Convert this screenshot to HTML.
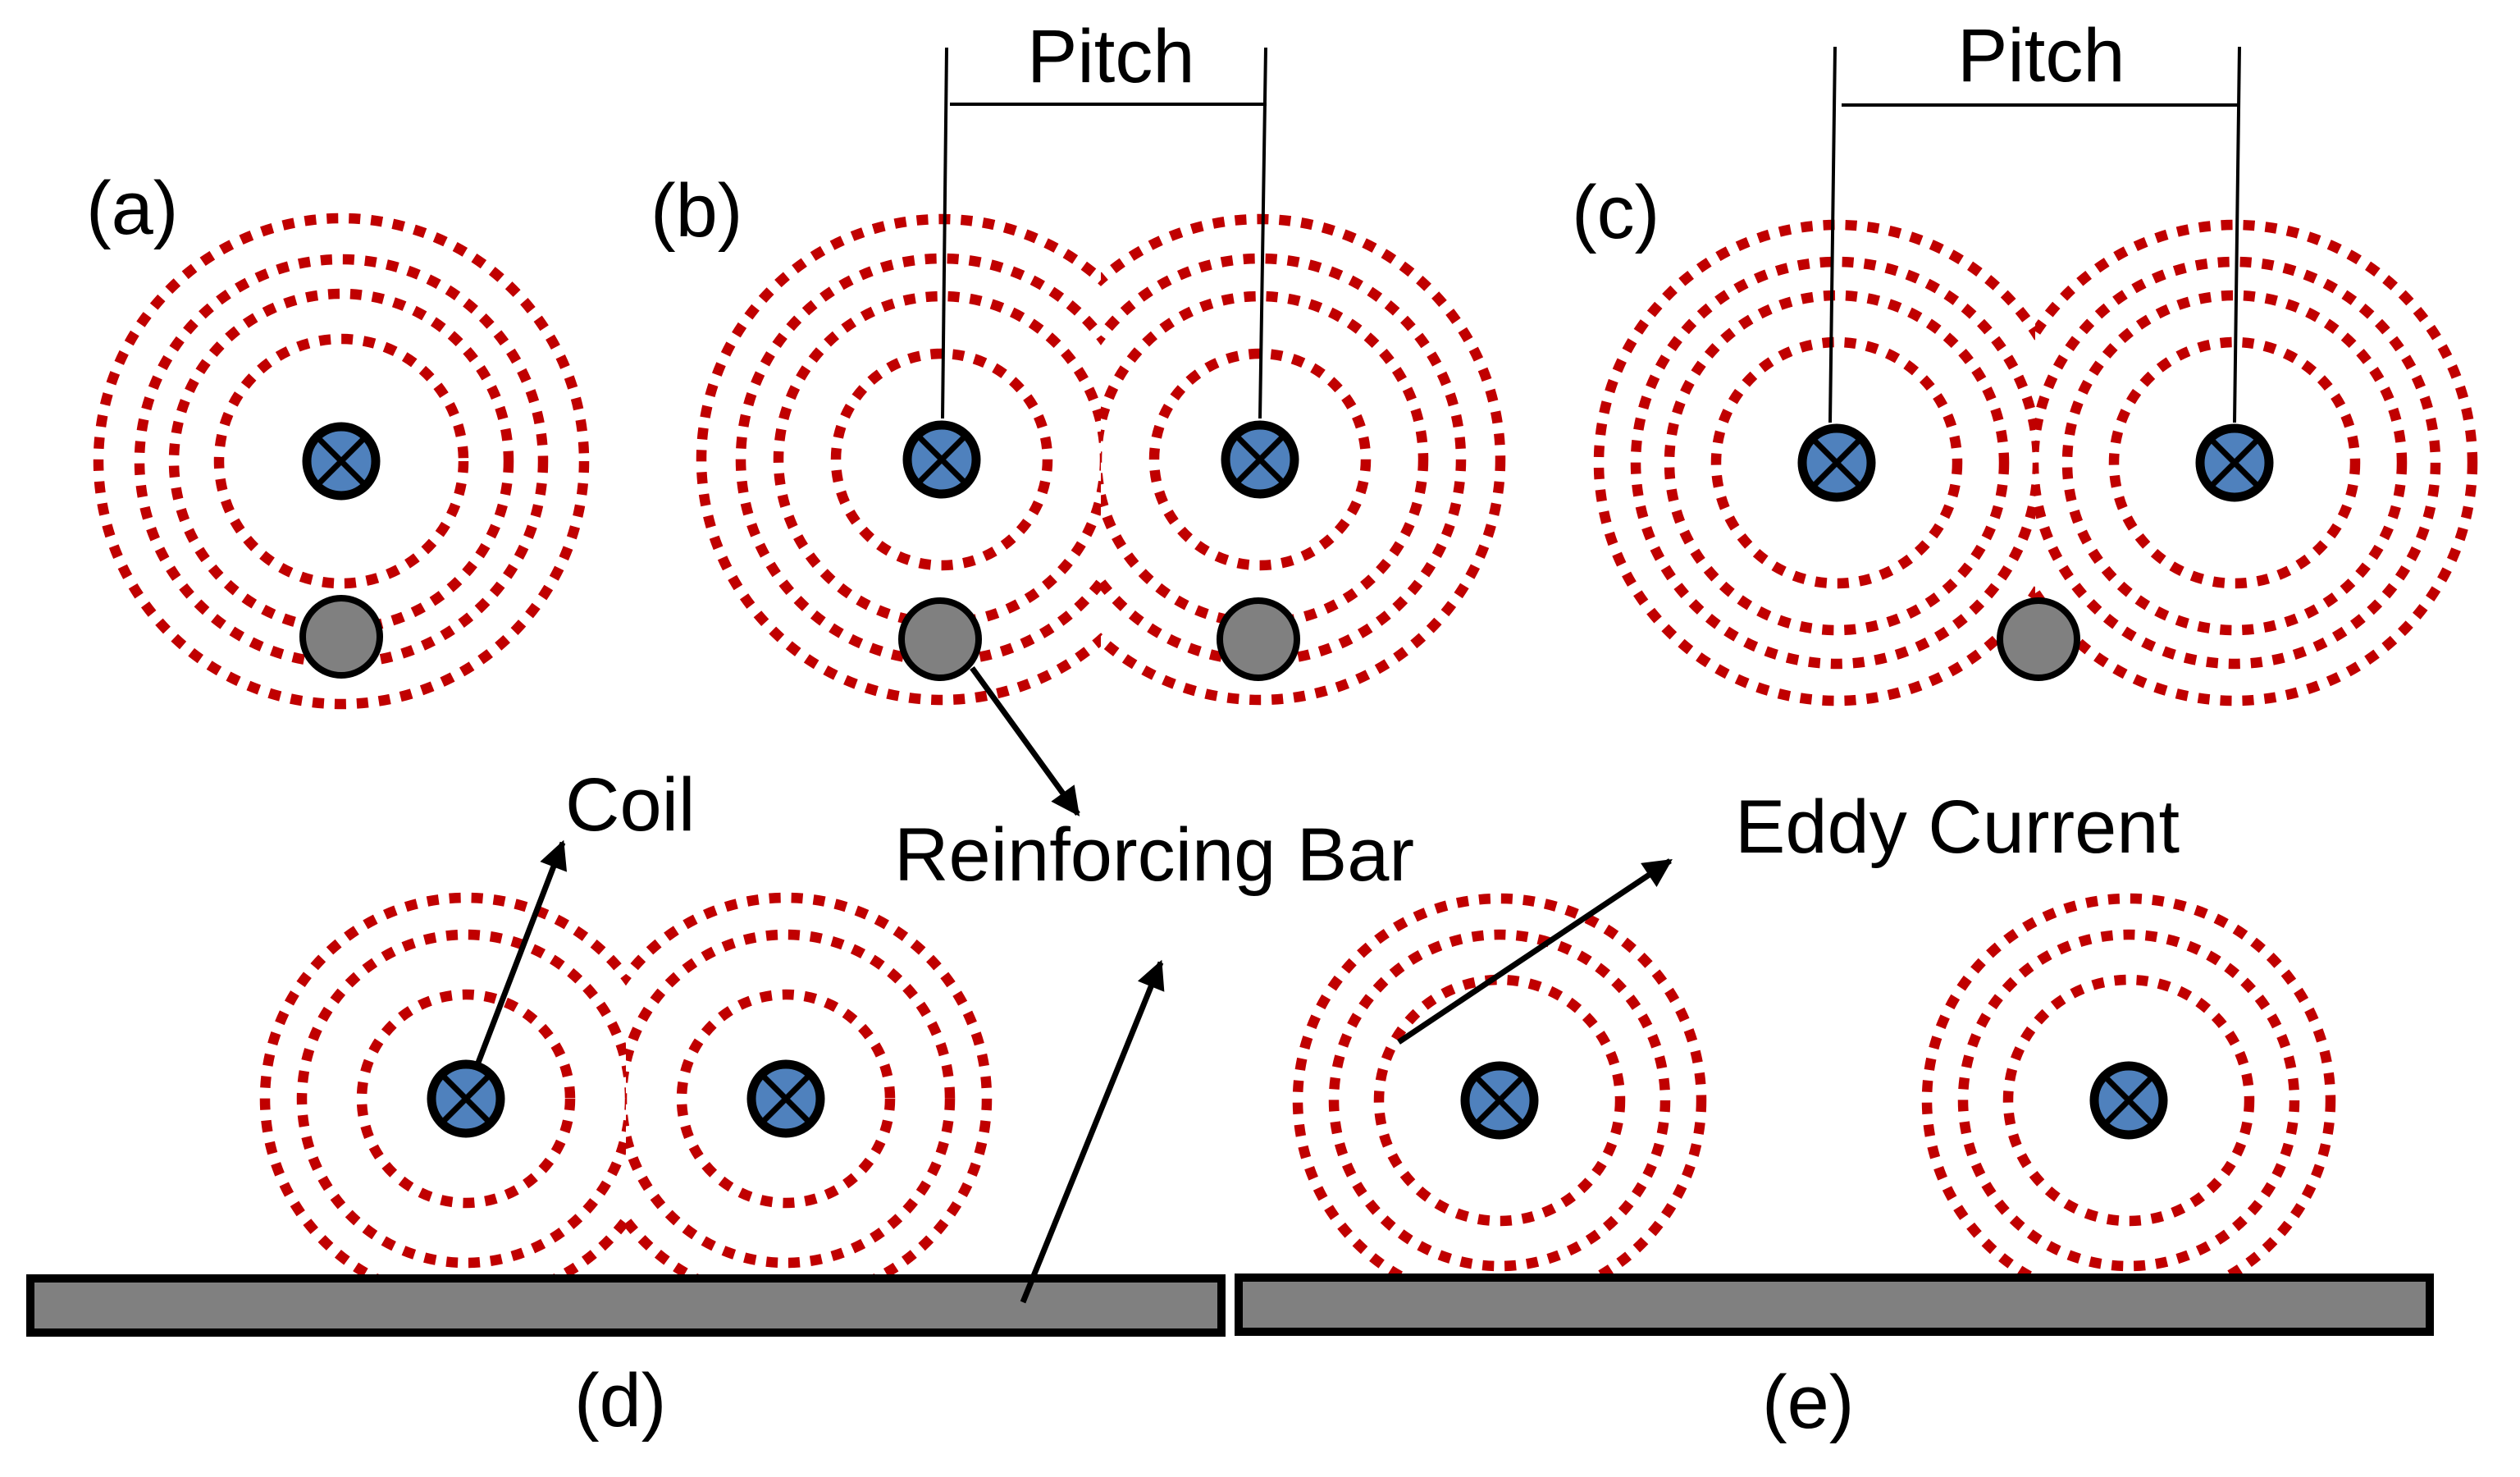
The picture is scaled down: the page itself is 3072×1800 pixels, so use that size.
<!DOCTYPE html>
<html><head><meta charset="utf-8"><style>
html,body{margin:0;padding:0;background:#fff;}
svg{display:block;}
text{font-family:"Liberation Sans",Arial,sans-serif;fill:#000;}
</style></head><body>
<svg width="3072" height="1800" viewBox="0 0 3072 1800" xmlns="http://www.w3.org/2000/svg">
<defs>
<clipPath id="bL"><rect x="0" y="0" width="1342" height="1800"/></clipPath>
<clipPath id="bR"><rect x="1342" y="0" width="1730" height="1800"/></clipPath>
<clipPath id="cL"><rect x="0" y="0" width="2481" height="1800"/></clipPath>
<clipPath id="cR"><rect x="2481" y="0" width="591" height="1800"/></clipPath>
<clipPath id="dL"><rect x="0" y="0" width="763" height="1553"/></clipPath>
<clipPath id="dR"><rect x="763" y="0" width="800" height="1553"/></clipPath>
<clipPath id="eB"><rect x="1400" y="0" width="1672" height="1553"/></clipPath>
<marker id="ah" viewBox="0 0 10 10" refX="9" refY="5" markerWidth="6" markerHeight="5" orient="auto" markerUnits="strokeWidth">
<path d="M0,0 L10,5 L0,10 z" fill="#000"/></marker>
</defs>

<g fill="none" stroke="#c00000" stroke-width="12.5" stroke-dasharray="14 13">
<circle cx="416" cy="562" r="296"/><circle cx="416" cy="562" r="246"/><circle cx="416" cy="562" r="204"/><circle cx="416" cy="562" r="149"/>
<g clip-path="url(#bL)"><circle cx="1148" cy="560" r="293"/><circle cx="1148" cy="560" r="245"/><circle cx="1148" cy="560" r="199"/><circle cx="1148" cy="560" r="129"/></g>
<g clip-path="url(#bR)"><circle cx="1536" cy="560" r="293"/><circle cx="1536" cy="560" r="245"/><circle cx="1536" cy="560" r="199"/><circle cx="1536" cy="560" r="129"/></g>
<g clip-path="url(#cL)"><circle cx="2239" cy="564" r="290"/><circle cx="2239" cy="564" r="245"/><circle cx="2239" cy="564" r="204"/><circle cx="2239" cy="564" r="147"/></g>
<g clip-path="url(#cR)"><circle cx="2724" cy="564" r="290"/><circle cx="2724" cy="564" r="245"/><circle cx="2724" cy="564" r="204"/><circle cx="2724" cy="564" r="147"/></g>
<g clip-path="url(#dL)"><circle cx="568" cy="1339" r="245"/><circle cx="568" cy="1339" r="200"/><circle cx="568" cy="1339" r="127"/></g>
<g clip-path="url(#dR)"><circle cx="958" cy="1339" r="245"/><circle cx="958" cy="1339" r="200"/><circle cx="958" cy="1339" r="127"/></g>
<g clip-path="url(#eB)"><circle cx="1828" cy="1341" r="246"/><circle cx="1828" cy="1341" r="202"/><circle cx="1828" cy="1341" r="147"/>
<circle cx="2595" cy="1341" r="246"/><circle cx="2595" cy="1341" r="202"/><circle cx="2595" cy="1341" r="147"/></g>
</g>

<rect x="37" y="1558" width="1452" height="66" fill="#808080" stroke="#000" stroke-width="10"/>
<rect x="1510" y="1557" width="1452" height="66" fill="#808080" stroke="#000" stroke-width="10"/>

<g fill="#808080" stroke="#000" stroke-width="8">
<circle cx="416" cy="776" r="47"/>
<circle cx="1146" cy="779" r="47"/>
<circle cx="1534" cy="779" r="47"/>
<circle cx="2485" cy="779" r="47"/>
</g>

<g stroke="#000" stroke-width="4">
<line x1="1154" y1="58" x2="1149" y2="510"/><line x1="1543" y1="58" x2="1536" y2="510"/><line x1="1158" y1="127" x2="1544" y2="127"/>
<line x1="2237" y1="57" x2="2231" y2="515"/><line x1="2730" y1="57" x2="2724" y2="515"/><line x1="2245" y1="128" x2="2728" y2="128"/>
</g>

<g>
<g transform="translate(416,562)"><circle r="42" fill="#4f81bd" stroke="#000" stroke-width="11"/><path d="M-27,-27 L27,27 M27,-27 L-27,27" stroke="#000" stroke-width="7"/></g>
<g transform="translate(1148,560)"><circle r="42" fill="#4f81bd" stroke="#000" stroke-width="11"/><path d="M-27,-27 L27,27 M27,-27 L-27,27" stroke="#000" stroke-width="7"/></g>
<g transform="translate(1536,560)"><circle r="42" fill="#4f81bd" stroke="#000" stroke-width="11"/><path d="M-27,-27 L27,27 M27,-27 L-27,27" stroke="#000" stroke-width="7"/></g>
<g transform="translate(2239,564)"><circle r="42" fill="#4f81bd" stroke="#000" stroke-width="11"/><path d="M-27,-27 L27,27 M27,-27 L-27,27" stroke="#000" stroke-width="7"/></g>
<g transform="translate(2724,564)"><circle r="42" fill="#4f81bd" stroke="#000" stroke-width="11"/><path d="M-27,-27 L27,27 M27,-27 L-27,27" stroke="#000" stroke-width="7"/></g>
<g transform="translate(568,1339)"><circle r="42" fill="#4f81bd" stroke="#000" stroke-width="11"/><path d="M-27,-27 L27,27 M27,-27 L-27,27" stroke="#000" stroke-width="7"/></g>
<g transform="translate(958,1339)"><circle r="42" fill="#4f81bd" stroke="#000" stroke-width="11"/><path d="M-27,-27 L27,27 M27,-27 L-27,27" stroke="#000" stroke-width="7"/></g>
<g transform="translate(1828,1341)"><circle r="42" fill="#4f81bd" stroke="#000" stroke-width="11"/><path d="M-27,-27 L27,27 M27,-27 L-27,27" stroke="#000" stroke-width="7"/></g>
<g transform="translate(2595,1341)"><circle r="42" fill="#4f81bd" stroke="#000" stroke-width="11"/><path d="M-27,-27 L27,27 M27,-27 L-27,27" stroke="#000" stroke-width="7"/></g>
</g>

<g stroke="#000" stroke-width="7" fill="none" marker-end="url(#ah)">
<line x1="1185" y1="814" x2="1314" y2="992"/>
<line x1="583" y1="1295" x2="686" y2="1027"/>
<line x1="1247" y1="1587" x2="1415" y2="1173"/>
<line x1="1705" y1="1270" x2="2036" y2="1049"/>
</g>

<g font-size="92">
<text x="105" y="285">(a)</text>
<text x="793" y="288">(b)</text>
<text x="1916" y="290">(c)</text>
<text x="1252" y="100">Pitch</text>
<text x="2386" y="99">Pitch</text>
<text x="1090" y="1073">Reinforcing Bar</text>
<text x="689" y="1012">Coil</text>
<text x="2115" y="1039">Eddy Current</text>
<text x="700" y="1738">(d)</text>
<text x="2148" y="1740">(e)</text>
</g>
</svg>
</body></html>
